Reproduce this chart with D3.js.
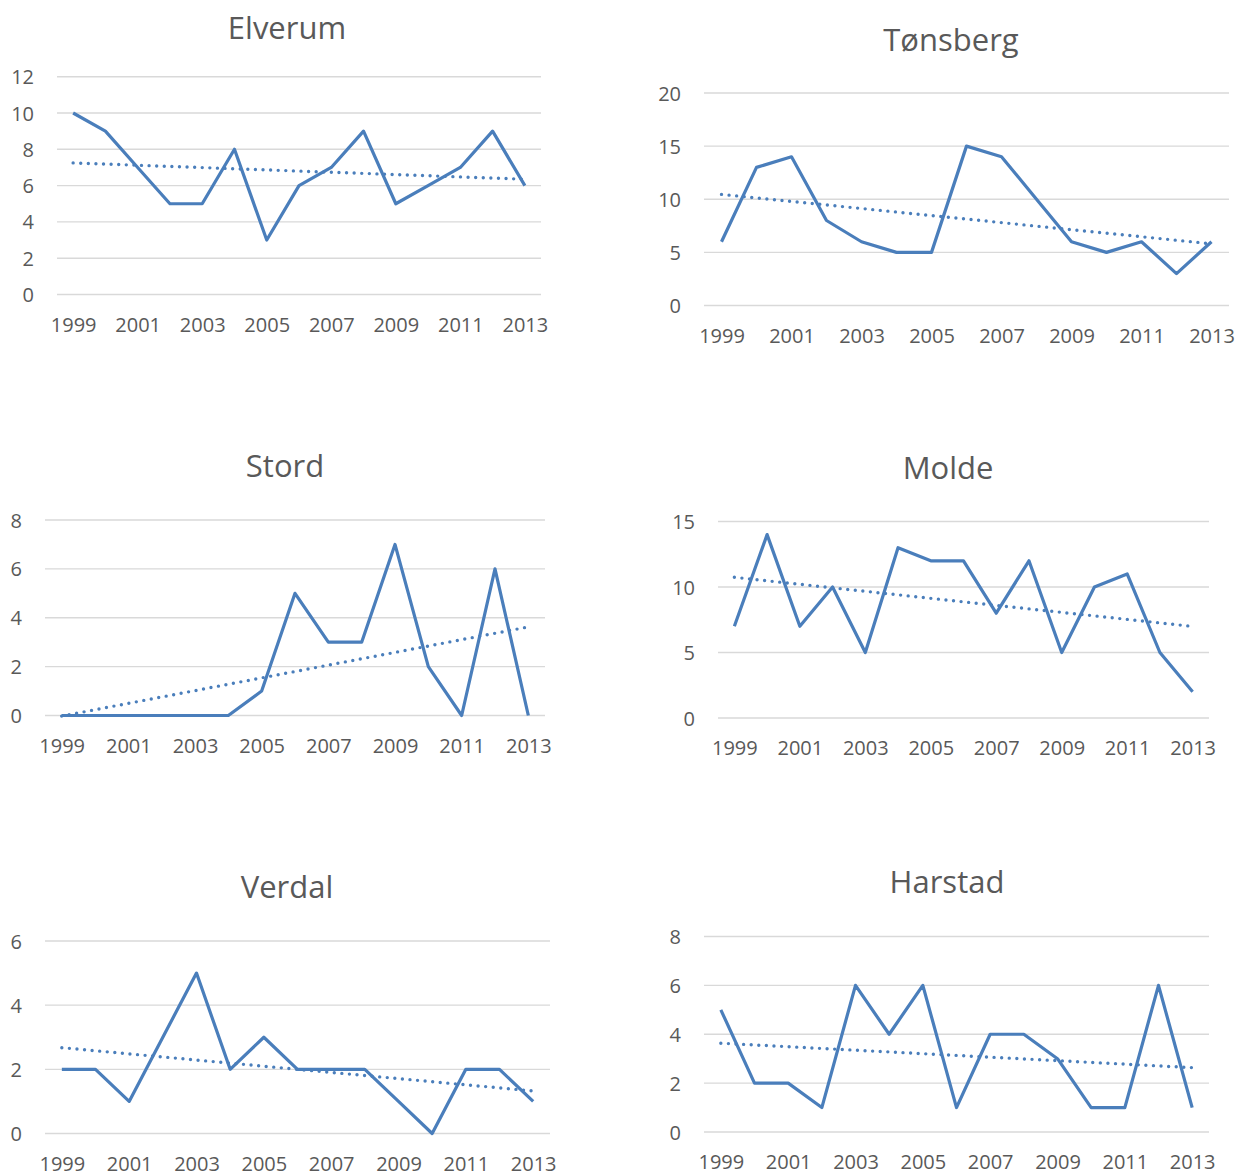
<!DOCTYPE html>
<html>
<head>
<meta charset="utf-8">
<script src="https://cdn.jsdelivr.net/npm/d3@7"></script>
<style>
  html, body { margin: 0; padding: 0; background: #ffffff; }
  svg { display: block; }
  text { font-family: "Open Sans", "Noto Sans", sans-serif; fill: #595959; }
</style>
</head>
<body>
<script>
// Years on the category axis
const years = [1999, 2000, 2001, 2002, 2003, 2004, 2005, 2006, 2007, 2008, 2009, 2010, 2011, 2012, 2013];
// Only every second year is labelled
const yearLabels = [1999, 2001, 2003, 2005, 2007, 2009, 2011, 2013];

// Yearly counts per town
const elverum   = [10, 9, 7, 5, 5, 8, 3, 6, 7, 9, 5, 6, 7, 9, 6];
const tonsberg  = [6, 13, 14, 8, 6, 5, 5, 15, 14, 10, 6, 5, 6, 3, 6];
const stord     = [0, 0, 0, 0, 0, 0, 1, 5, 3, 3, 7, 2, 0, 6, 0];
const molde     = [7, 14, 7, 10, 5, 13, 12, 12, 8, 12, 5, 10, 11, 5, 2];
const verdal    = [2, 2, 1, 3, 5, 2, 3, 2, 2, 2, 1, 0, 2, 2, 1];
const harstad   = [5, 2, 2, 1, 6, 4, 6, 1, 4, 4, 3, 1, 1, 6, 1];

// Value-axis ticks per town
const ticksElverum  = [0, 2, 4, 6, 8, 10, 12];
const ticksTonsberg = [0, 5, 10, 15, 20];
const ticksStord    = [0, 2, 4, 6, 8];
const ticksMolde    = [0, 5, 10, 15];
const ticksVerdal   = [0, 2, 4, 6];
const ticksHarstad  = [0, 2, 4, 6, 8];

// Panel titles
const titles = ["Elverum", "Tønsberg", "Stord", "Molde", "Verdal", "Harstad"];

const seriesList = [elverum, tonsberg, stord, molde, verdal, harstad];
const tickList = [ticksElverum, ticksTonsberg, ticksStord, ticksMolde, ticksVerdal, ticksHarstad];

// Plot-area geometry of each small chart
const layout = [
  { x0: 57,  x1: 541,  yTop: 76.7, yBot: 294.5, titleX: 287, titleY: 28 },
  { x0: 704, x1: 1229, yTop: 93,   yBot: 305.5, titleX: 951, titleY: 40 },
  { x0: 45,  x1: 545,  yTop: 520,  yBot: 715.5, titleX: 285, titleY: 466 },
  { x0: 718, x1: 1209, yTop: 521.5,yBot: 718,   titleX: 948, titleY: 468 },
  { x0: 45,  x1: 550,  yTop: 941,  yBot: 1133.5,titleX: 287, titleY: 887 },
  { x0: 704, x1: 1209, yTop: 936.5,yBot: 1132,  titleX: 947, titleY: 882 }
];

const lineColor = "#4a7ebb";
const gridColor = "#d9d9d9";

const svg = d3.select("body").append("svg")
  .attr("width", 1236)
  .attr("height", 1173);

// Least-squares linear trend over the category index
function linearTrend(values) {
  const n = values.length;
  const xs = d3.range(n);
  const mx = d3.mean(xs), my = d3.mean(values);
  let sxy = 0, sxx = 0;
  xs.forEach((x, i) => { sxy += (x - mx) * (values[i] - my); sxx += (x - mx) * (x - mx); });
  const slope = sxy / sxx;
  const intercept = my - slope * mx;
  return [intercept, intercept + slope * (n - 1)];
}

seriesList.forEach((values, k) => {
  const L = layout[k];
  const ticks = tickList[k];
  const g = svg.append("g");

  const x = d3.scalePoint()
    .domain(years)
    .range([L.x0, L.x1])
    .padding(0.5);

  const y = d3.scaleLinear()
    .domain([0, d3.max(ticks)])
    .range([L.yBot, L.yTop]);

  // Horizontal gridlines
  g.append("g").selectAll("line")
    .data(ticks)
    .join("line")
    .attr("x1", L.x0)
    .attr("x2", L.x1)
    .attr("y1", d => y(d))
    .attr("y2", d => y(d))
    .attr("stroke", gridColor)
    .attr("stroke-width", 1.4);

  // Value-axis labels
  const yAxis = d3.axisLeft(y).tickValues(ticks).tickFormat(d3.format("d")).tickSize(0).tickPadding(23);
  const ya = g.append("g").attr("transform", `translate(${L.x0},0)`).call(yAxis);
  ya.select(".domain").remove();
  ya.selectAll("text")
    .attr("font-size", 20)
    .attr("font-family", null)
    .attr("fill", "#595959")
    .attr("dy", "0.35em");

  // Category-axis labels
  const xAxis = d3.axisBottom(x).tickValues(yearLabels).tickFormat(d3.format("d")).tickSize(0).tickPadding(0);
  const xa = g.append("g").attr("transform", `translate(0,${L.yBot + 30})`).call(xAxis);
  xa.select(".domain").remove();
  xa.selectAll("text")
    .attr("font-size", 20)
    .attr("font-family", null)
    .attr("fill", "#595959")
    .attr("y", 0)
    .attr("dy", "0.35em");

  // Dotted linear trendline
  const tr = linearTrend(values);
  g.append("line")
    .attr("x1", x(years[0]))
    .attr("y1", y(tr[0]))
    .attr("x2", x(years[years.length - 1]))
    .attr("y2", y(tr[1]))
    .attr("stroke", lineColor)
    .attr("stroke-width", 3.4)
    .attr("stroke-linecap", "round")
    .attr("stroke-dasharray", "0 7.6");

  // Yearly series line
  const line = d3.line()
    .x((d, i) => x(years[i]))
    .y(d => y(d));
  g.append("path")
    .datum(values)
    .attr("d", line)
    .attr("fill", "none")
    .attr("stroke", lineColor)
    .attr("stroke-width", 3.2)
    .attr("stroke-linejoin", "round");

  // Panel title
  g.append("text")
    .attr("x", L.titleX)
    .attr("y", L.titleY)
    .attr("text-anchor", "middle")
    .attr("dy", "0.35em")
    .attr("font-size", 31)
    .text(titles[k]);
});
</script>
</body>
</html>
